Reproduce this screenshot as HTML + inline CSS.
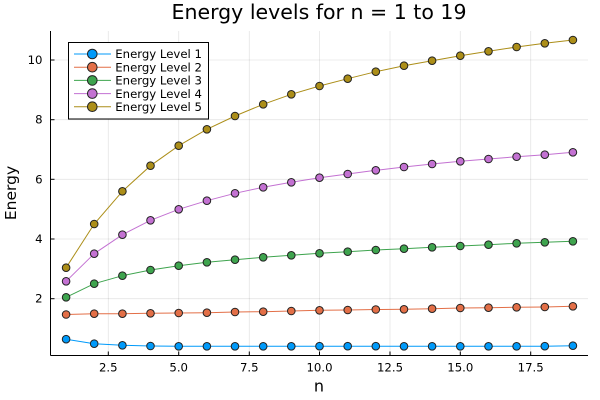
<!DOCTYPE html>
<html><head><meta charset="utf-8"><style>
html,body{margin:0;padding:0;background:#fff;}
svg{display:block;font-family:"DejaVu Sans","Liberation Sans",sans-serif;}
</style></head><body>
<svg width="600" height="400" viewBox="0 0 600 400" xmlns="http://www.w3.org/2000/svg">
<rect width="600" height="400" fill="#fff"/>
<!-- grid -->
<g stroke="#000" stroke-opacity="0.1" stroke-width="0.8">
<line x1="108.3" y1="31" x2="108.3" y2="355.5"/>
<line x1="178.7" y1="31" x2="178.7" y2="355.5"/>
<line x1="249.3" y1="31" x2="249.3" y2="355.5"/>
<line x1="319.5" y1="31" x2="319.5" y2="355.5"/>
<line x1="390" y1="31" x2="390" y2="355.5"/>
<line x1="460.3" y1="31" x2="460.3" y2="355.5"/>
<line x1="530.7" y1="31" x2="530.7" y2="355.5"/>
<line x1="50.5" y1="60" x2="588" y2="60"/>
<line x1="50.5" y1="119.7" x2="588" y2="119.7"/>
<line x1="50.5" y1="179.3" x2="588" y2="179.3"/>
<line x1="50.5" y1="239" x2="588" y2="239"/>
<line x1="50.5" y1="298.7" x2="588" y2="298.7"/>
</g>
<!-- axes -->
<g stroke="#000" stroke-width="1">
<line x1="50.5" y1="31" x2="50.5" y2="355.5"/>
<line x1="50.5" y1="355.5" x2="588" y2="355.5"/>
<line x1="108.3" y1="355.5" x2="108.3" y2="351.5"/>
<line x1="178.7" y1="355.5" x2="178.7" y2="351.5"/>
<line x1="249.3" y1="355.5" x2="249.3" y2="351.5"/>
<line x1="319.5" y1="355.5" x2="319.5" y2="351.5"/>
<line x1="390" y1="355.5" x2="390" y2="351.5"/>
<line x1="460.3" y1="355.5" x2="460.3" y2="351.5"/>
<line x1="530.7" y1="355.5" x2="530.7" y2="351.5"/>
<line x1="50.5" y1="60" x2="54.5" y2="60"/>
<line x1="50.5" y1="119.7" x2="54.5" y2="119.7"/>
<line x1="50.5" y1="179.3" x2="54.5" y2="179.3"/>
<line x1="50.5" y1="239" x2="54.5" y2="239"/>
<line x1="50.5" y1="298.7" x2="54.5" y2="298.7"/>
</g>
<!-- tick labels -->
<g font-size="11.7" fill="#000" text-anchor="middle">
<text x="108.3" y="371.5">2.5</text>
<text x="178.7" y="371.5">5.0</text>
<text x="249.3" y="371.5">7.5</text>
<text x="319.5" y="371.5">10.0</text>
<text x="390" y="371.5">12.5</text>
<text x="460.3" y="371.5">15.0</text>
<text x="530.7" y="371.5">17.5</text>
</g>
<g font-size="11.7" fill="#000" text-anchor="end">
<text x="42.5" y="64">10</text>
<text x="42.5" y="123.7">8</text>
<text x="42.5" y="183.3">6</text>
<text x="42.5" y="243">4</text>
<text x="42.5" y="302.7">2</text>
</g>
<!-- title & labels -->
<text x="319" y="19" font-size="20" text-anchor="middle" fill="#000" textLength="295" lengthAdjust="spacingAndGlyphs">Energy levels for n = 1 to 19</text>
<text x="319" y="391.5" font-size="16" text-anchor="middle" fill="#000">n</text>
<text transform="translate(16,193) rotate(-90)" font-size="15.5" text-anchor="middle" fill="#000">Energy</text>
<!-- series -->
<g fill="none" stroke-width="1">
<polyline stroke="#009AFA" points="66.1,339.2 94.2,343.7 122.4,345.3 150.5,346 178.7,346.3 206.9,346.3 235,346.3 263.2,346.3 291.3,346.3 319.5,346.2 347.7,346.2 375.8,346.2 404,346.3 432.1,346.3 460.3,346.3 488.5,346.3 516.6,346.3 544.8,346.2 572.9,345.7"/>
<polyline stroke="#E36F47" points="66.1,314.5 94.2,313.7 122.4,313.7 150.5,313.3 178.7,313 206.9,312.7 235,312 263.2,311.7 291.3,311 319.5,310.3 347.7,310 375.8,309.5 404,309.3 432.1,308.7 460.3,308 488.5,307.7 516.6,307.3 544.8,307 572.9,306.3"/>
<polyline stroke="#3EA44E" points="66.1,297.3 94.2,283.7 122.4,275.7 150.5,270 178.7,265.7 206.9,262.3 235,259.7 263.2,257.3 291.3,255.3 319.5,253.3 347.7,251.7 375.8,250 404,248.7 432.1,247.3 460.3,246 488.5,244.7 516.6,243.3 544.8,242.3 572.9,241.3"/>
<polyline stroke="#C371D2" points="66.1,281.3 94.2,253.7 122.4,234.7 150.5,220.3 178.7,209.3 206.9,200.7 235,193.3 263.2,187.3 291.3,182.3 319.5,177.7 347.7,174 375.8,170.3 404,167 432.1,164 460.3,161.3 488.5,159 516.6,156.7 544.8,154.7 572.9,152.3"/>
<polyline stroke="#AC8E18" points="66.1,267.7 94.2,224 122.4,191.3 150.5,165.7 178.7,145.7 206.9,129.3 235,116 263.2,104.3 291.3,94.3 319.5,86 347.7,78.7 375.8,71.7 404,65.7 432.1,60.7 460.3,55.7 488.5,51.3 516.6,47 544.8,43.3 572.9,40"/>
</g>
<g stroke="#222" stroke-width="1">
<g fill="#009AFA">
<circle cx="66.1" cy="339.2" r="3.8"/><circle cx="94.2" cy="343.7" r="3.8"/><circle cx="122.4" cy="345.3" r="3.8"/><circle cx="150.5" cy="346" r="3.8"/><circle cx="178.7" cy="346.3" r="3.8"/><circle cx="206.9" cy="346.3" r="3.8"/><circle cx="235" cy="346.3" r="3.8"/><circle cx="263.2" cy="346.3" r="3.8"/><circle cx="291.3" cy="346.3" r="3.8"/><circle cx="319.5" cy="346.2" r="3.8"/><circle cx="347.7" cy="346.2" r="3.8"/><circle cx="375.8" cy="346.2" r="3.8"/><circle cx="404" cy="346.3" r="3.8"/><circle cx="432.1" cy="346.3" r="3.8"/><circle cx="460.3" cy="346.3" r="3.8"/><circle cx="488.5" cy="346.3" r="3.8"/><circle cx="516.6" cy="346.3" r="3.8"/><circle cx="544.8" cy="346.2" r="3.8"/><circle cx="572.9" cy="345.7" r="3.8"/>
</g>
<g fill="#E36F47">
<circle cx="66.1" cy="314.5" r="3.8"/><circle cx="94.2" cy="313.7" r="3.8"/><circle cx="122.4" cy="313.7" r="3.8"/><circle cx="150.5" cy="313.3" r="3.8"/><circle cx="178.7" cy="313" r="3.8"/><circle cx="206.9" cy="312.7" r="3.8"/><circle cx="235" cy="312" r="3.8"/><circle cx="263.2" cy="311.7" r="3.8"/><circle cx="291.3" cy="311" r="3.8"/><circle cx="319.5" cy="310.3" r="3.8"/><circle cx="347.7" cy="310" r="3.8"/><circle cx="375.8" cy="309.5" r="3.8"/><circle cx="404" cy="309.3" r="3.8"/><circle cx="432.1" cy="308.7" r="3.8"/><circle cx="460.3" cy="308" r="3.8"/><circle cx="488.5" cy="307.7" r="3.8"/><circle cx="516.6" cy="307.3" r="3.8"/><circle cx="544.8" cy="307" r="3.8"/><circle cx="572.9" cy="306.3" r="3.8"/>
</g>
<g fill="#3EA44E">
<circle cx="66.1" cy="297.3" r="3.8"/><circle cx="94.2" cy="283.7" r="3.8"/><circle cx="122.4" cy="275.7" r="3.8"/><circle cx="150.5" cy="270" r="3.8"/><circle cx="178.7" cy="265.7" r="3.8"/><circle cx="206.9" cy="262.3" r="3.8"/><circle cx="235" cy="259.7" r="3.8"/><circle cx="263.2" cy="257.3" r="3.8"/><circle cx="291.3" cy="255.3" r="3.8"/><circle cx="319.5" cy="253.3" r="3.8"/><circle cx="347.7" cy="251.7" r="3.8"/><circle cx="375.8" cy="250" r="3.8"/><circle cx="404" cy="248.7" r="3.8"/><circle cx="432.1" cy="247.3" r="3.8"/><circle cx="460.3" cy="246" r="3.8"/><circle cx="488.5" cy="244.7" r="3.8"/><circle cx="516.6" cy="243.3" r="3.8"/><circle cx="544.8" cy="242.3" r="3.8"/><circle cx="572.9" cy="241.3" r="3.8"/>
</g>
<g fill="#C371D2">
<circle cx="66.1" cy="281.3" r="3.8"/><circle cx="94.2" cy="253.7" r="3.8"/><circle cx="122.4" cy="234.7" r="3.8"/><circle cx="150.5" cy="220.3" r="3.8"/><circle cx="178.7" cy="209.3" r="3.8"/><circle cx="206.9" cy="200.7" r="3.8"/><circle cx="235" cy="193.3" r="3.8"/><circle cx="263.2" cy="187.3" r="3.8"/><circle cx="291.3" cy="182.3" r="3.8"/><circle cx="319.5" cy="177.7" r="3.8"/><circle cx="347.7" cy="174" r="3.8"/><circle cx="375.8" cy="170.3" r="3.8"/><circle cx="404" cy="167" r="3.8"/><circle cx="432.1" cy="164" r="3.8"/><circle cx="460.3" cy="161.3" r="3.8"/><circle cx="488.5" cy="159" r="3.8"/><circle cx="516.6" cy="156.7" r="3.8"/><circle cx="544.8" cy="154.7" r="3.8"/><circle cx="572.9" cy="152.3" r="3.8"/>
</g>
<g fill="#AC8E18">
<circle cx="66.1" cy="267.7" r="3.8"/><circle cx="94.2" cy="224" r="3.8"/><circle cx="122.4" cy="191.3" r="3.8"/><circle cx="150.5" cy="165.7" r="3.8"/><circle cx="178.7" cy="145.7" r="3.8"/><circle cx="206.9" cy="129.3" r="3.8"/><circle cx="235" cy="116" r="3.8"/><circle cx="263.2" cy="104.3" r="3.8"/><circle cx="291.3" cy="94.3" r="3.8"/><circle cx="319.5" cy="86" r="3.8"/><circle cx="347.7" cy="78.7" r="3.8"/><circle cx="375.8" cy="71.7" r="3.8"/><circle cx="404" cy="65.7" r="3.8"/><circle cx="432.1" cy="60.7" r="3.8"/><circle cx="460.3" cy="55.7" r="3.8"/><circle cx="488.5" cy="51.3" r="3.8"/><circle cx="516.6" cy="47" r="3.8"/><circle cx="544.8" cy="43.3" r="3.8"/><circle cx="572.9" cy="40" r="3.8"/>
</g>
</g>
<!-- legend -->
<rect x="68.5" y="42.5" width="140" height="76.5" fill="#fff" stroke="#000" stroke-width="1"/>
<g stroke-width="1">
<line x1="74" y1="54" x2="111" y2="54" stroke="#009AFA"/>
<line x1="74" y1="67.2" x2="111" y2="67.2" stroke="#E36F47"/>
<line x1="74" y1="80.4" x2="111" y2="80.4" stroke="#3EA44E"/>
<line x1="74" y1="93.6" x2="111" y2="93.6" stroke="#C371D2"/>
<line x1="74" y1="106.7" x2="111" y2="106.7" stroke="#AC8E18"/>
</g>
<g stroke="#222" stroke-width="1">
<circle cx="92.3" cy="54" r="4.8" fill="#009AFA"/>
<circle cx="92.3" cy="67.2" r="4.8" fill="#E36F47"/>
<circle cx="92.3" cy="80.4" r="4.8" fill="#3EA44E"/>
<circle cx="92.3" cy="93.6" r="4.8" fill="#C371D2"/>
<circle cx="92.3" cy="106.7" r="4.8" fill="#AC8E18"/>
</g>
<g font-size="11.7" fill="#000">
<text x="115.3" y="58.2">Energy Level 1</text>
<text x="115.3" y="71.4">Energy Level 2</text>
<text x="115.3" y="84.6">Energy Level 3</text>
<text x="115.3" y="97.8">Energy Level 4</text>
<text x="115.3" y="110.9">Energy Level 5</text>
</g>
</svg>
</body></html>
